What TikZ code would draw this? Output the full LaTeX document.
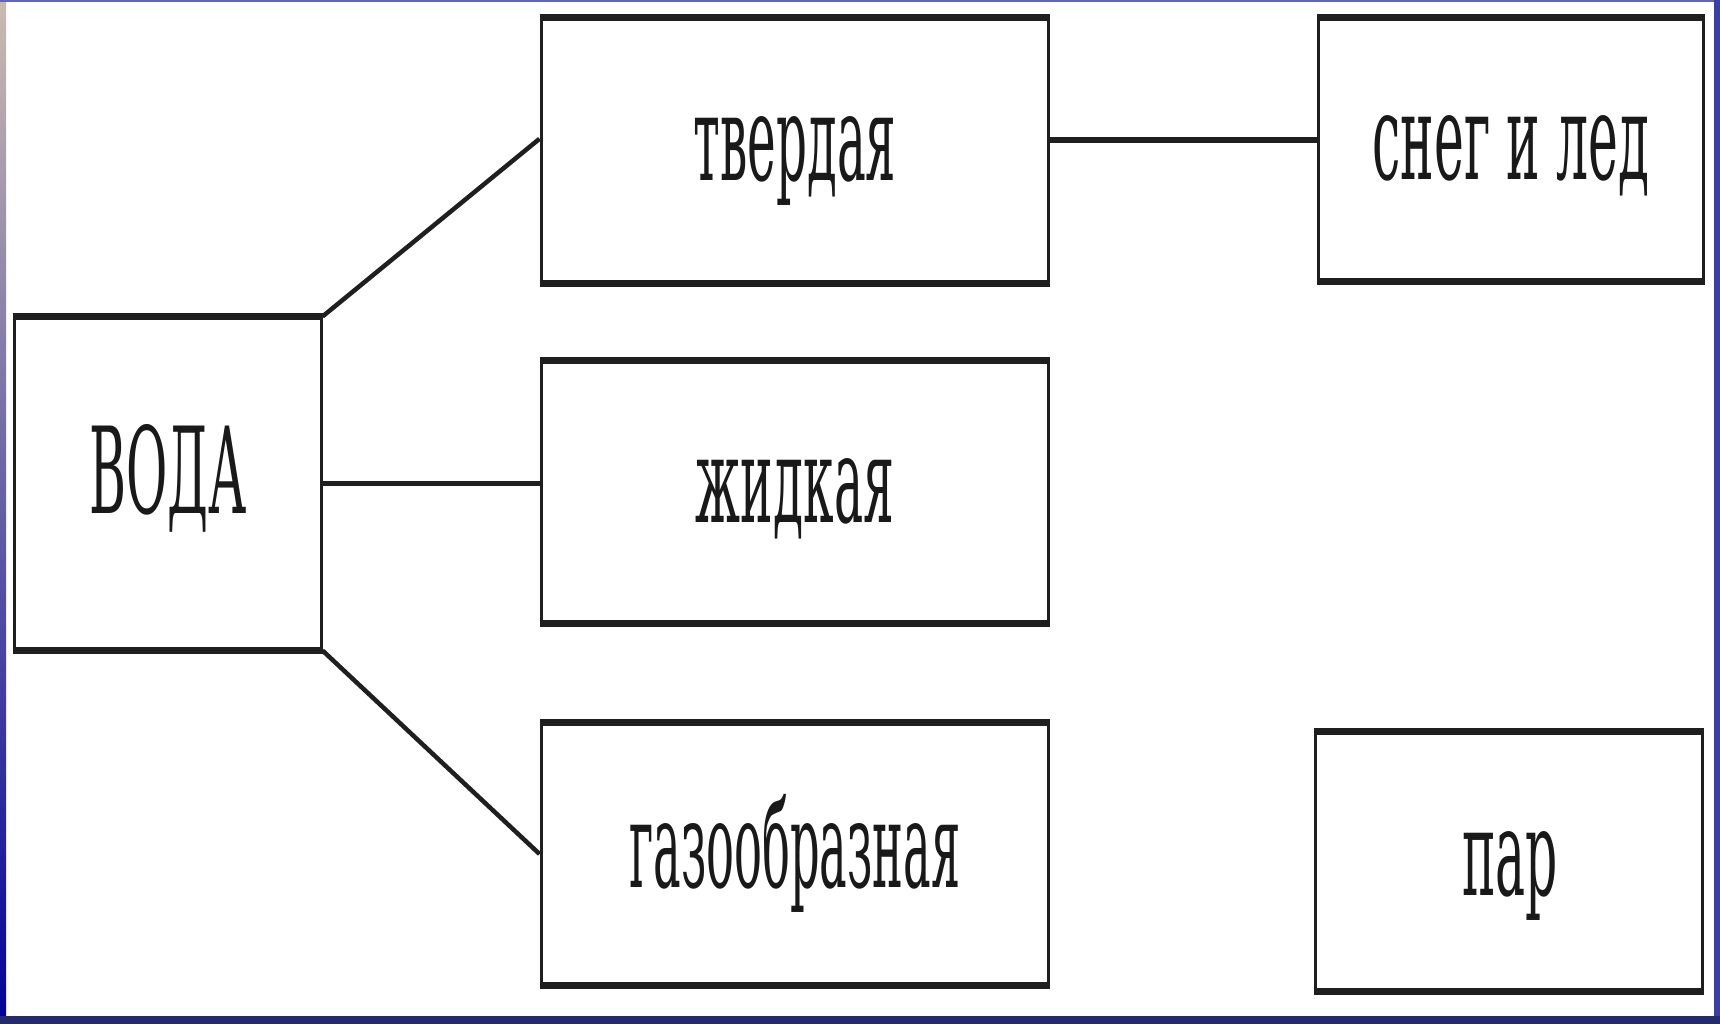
\documentclass[tikz,border=0pt]{standalone}
\usepackage{fontspec}
\usetikzlibrary{calc}
\newfontfamily\boxfont[FakeStretch=0.42]{DejaVu Serif}
\definecolor{navy}{HTML}{232A6E}
\definecolor{frameblue}{HTML}{3A3FA8}
\definecolor{stripgreen}{HTML}{A8D0B0}
\definecolor{stripbeige}{HTML}{C8BCB0}
\tikzset{
  boxn/.style={draw=black!88, line width=3pt, inner sep=0pt},
  txt/.style={font=\boxfont\fontsize{120}{130}\selectfont, anchor=base, inner sep=0pt, text=black!90},
  conn/.style={draw=black!88, line width=4.5pt},
  thick edge/.style={draw=black!88, line width=7pt}
}
\begin{document}
\begin{tikzpicture}[x=1pt,y=-1pt]
\useasboundingbox (0,0) rectangle (1720,1024);
\fill[white] (0,0) rectangle (1720,1024);
% slide frame
\shade[top color=stripbeige, middle color=stripgreen!70!cyan, bottom color=blue!60!black] (0,0) rectangle (6,1024);
\fill[frameblue!80] (0,0) rectangle (1720,2);
\fill[frameblue] (1714,0) rectangle (1720,1024);
\fill[navy] (0,1016) rectangle (1720,1024);
% boxes
\node[boxn, minimum width=307pt, minimum height=331pt] (voda) at (167.5,483.5) {};
\node[boxn, minimum width=507pt, minimum height=263pt] (tv) at (794.5,150.5) {};
\node[boxn, minimum width=507pt, minimum height=260pt] (zh) at (794.5,492) {};
\node[boxn, minimum width=507pt, minimum height=260pt] (gaz) at (794.5,854) {};
\node[boxn, minimum width=385pt, minimum height=261pt] (sneg) at (1510.5,149.5) {};
\node[boxn, minimum width=387pt, minimum height=257pt] (par) at (1508.5,861.5) {};
% thick top and bottom edges
\foreach \n in {voda,tv,zh,gaz,sneg,par}{
  \draw[thick edge] (\n.north west) -- (\n.north east);
  \draw[thick edge] (\n.south west) -- (\n.south east);
}
% texts
\node[txt] (tvoda) at (168,513) {ВОДА};
\node[txt] (ttv) at (795,181) {\scalebox{0.96}[1]{твердая}};
\node[txt] (tzh) at (795,522) {\scalebox{0.97}[1]{жидкая}};
\node[txt] (tgaz) at (795,887) {\scalebox{0.92}[1]{газообразная}};
\node[txt] (tsneg) at (1511,180) {снег и лед};
\node[txt] (tpar) at (1510,895) {пар};
% connectors
\coordinate (tvin) at ($(tv.north west)!0.456!(tv.south west)$);
\coordinate (tvout) at ($(tv.north east)!0.46!(tv.south east)$);
\draw[conn] (voda.north east) -- (tvin);
\draw[conn] (voda.east) -- (voda.east -| zh.west);
\draw[conn] (voda.south east) -- (gaz.west);
\draw[conn, line width=5.5pt] (tvout) -- (tvout -| sneg.west);
\draw[conn, line width=4pt] ($(gaz.east)+(0,-4)$) -- ($(gaz.east)+(0,-4)$ -| par.west);
\end{tikzpicture}
\end{document}
